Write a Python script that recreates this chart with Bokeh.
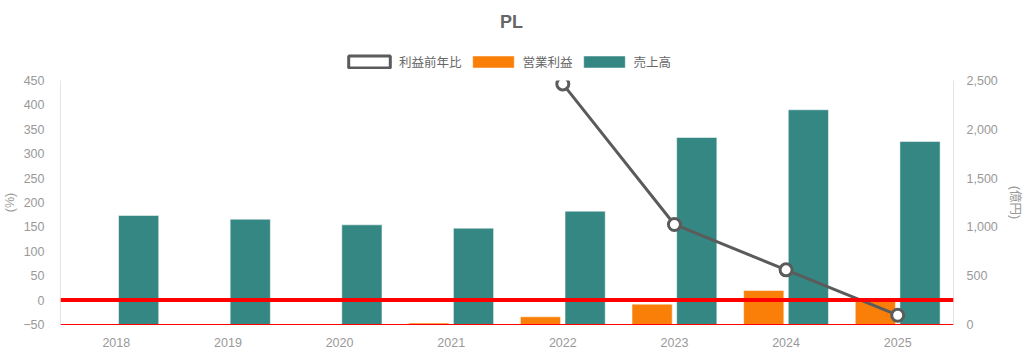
from bokeh.plotting import figure
from bokeh.layouts import column
from bokeh.models import (FactorRange, Range1d, LinearAxis, Span, Legend, LegendItem,
                          ColumnDataSource, SingleIntervalTicker, NumeralTickFormatter)
from bokeh.core.properties import value
from bokeh.transform import dodge
from bokeh.embed import file_html
from bokeh.resources import INLINE

title_text = "PL"
years = ["2018", "2019", "2020", "2021", "2022", "2023", "2024", "2025"]
sales = [1117, 1079, 1021, 987, 1161, 1916, 2200, 1875]          # 売上高 (億円)
op_profit = [None, None, None, 15, 79, 208, 348, 253]           # 営業利益 (億円)
growth = [None, None, None, None, 443, 155, 62, -31]            # 利益前年比 (%)
series_names = ["利益前年比", "営業利益", "売上高"]

def nanify(v):
    return [float("nan") if x is None else x for x in v]

src = ColumnDataSource(dict(year=years, sales=sales, op=nanify(op_profit), growth=nanify(growth)))

FONT = "'Liberation Sans', 'Noto Sans CJK JP', sans-serif"
GRAY = "#999999"
TEAL = "#358784"
ORANGE = "#fa7f08"
LINEC = "#5b5b5b"

W = 1024
HH = 74   # header height
FL, FR = 60, 953  # frame left / right in page pixels (frames are aligned in the column)

# ---------- header (title + legend) ----------
h = figure(width=W, height=HH, x_range=Range1d(FL, FR), y_range=Range1d(0, HH),
           output_backend="svg", toolbar_location=None,
           min_border_left=FL, min_border_right=W - FR, min_border_top=0, min_border_bottom=0)
h.axis.visible = False
h.grid.visible = False
h.outline_line_color = None
h.text(x=[511], y=[HH - 21.5], text=[title_text], text_align="center", text_baseline="middle",
       text_font=value("Liberation Sans"), text_font_size="18px", text_font_style="bold",
       text_color="#666666")
# legend-only proxies, placed outside the visible header range
off = dict(left=[0], right=[1], top=[1], bottom=[0])
d1 = h.quad(**off, fill_color="white", line_color=LINEC, line_width=3)
d2 = h.quad(**off, fill_color=ORANGE, line_color="white", line_alpha=0.5)
d3 = h.quad(**off, fill_color=TEAL, line_color="white", line_alpha=0.5)
legend = Legend(items=[LegendItem(label=series_names[0], renderers=[d1]),
                       LegendItem(label=series_names[1], renderers=[d2]),
                       LegendItem(label=series_names[2], renderers=[d3])],
                orientation="horizontal", location=(343 - FL, 3),
                glyph_width=52, glyph_height=15, label_standoff=4, spacing=5,
                label_text_font=FONT, label_text_font_size="12.5px", label_text_color="#666666",
                label_height=15, border_line_color=None, background_fill_alpha=0, padding=0, margin=0)
h.add_layout(legend)

# ---------- main chart ----------
p = figure(width=W, height=355 - HH, x_range=FactorRange(*years), y_range=Range1d(-50, 450),
           output_backend="svg", toolbar_location=None,
           min_border_left=FL, min_border_right=W - FR, min_border_bottom=31, min_border_top=80 - HH)
p.extra_y_ranges = {"yen": Range1d(0, 2500)}
p.outline_line_color = None
p.xgrid.grid_line_color = None
p.ygrid.grid_line_color = None

p.add_layout(Span(location=0, dimension="width", line_color="#ff0000", line_width=4))

p.vbar(x=dodge("year", 0.2, range=p.x_range), top="sales", width=0.36, source=src,
       y_range_name="yen", fill_color=TEAL, line_color="#ffffff", line_alpha=0.5, line_width=1)
p.vbar(x=dodge("year", -0.2, range=p.x_range), top="op", width=0.36, source=src,
       y_range_name="yen", fill_color=ORANGE, line_color="#ffffff", line_alpha=0.5, line_width=1)

p.line(x="year", y="growth", source=src, line_color=LINEC, line_width=3)
p.scatter(x="year", y="growth", source=src, size=12,
          fill_color="white", line_color=LINEC, line_width=3)

yl = p.yaxis[0]
yl.ticker = SingleIntervalTicker(interval=50)
yl.axis_label = "(%)"

yr = LinearAxis(y_range_name="yen", ticker=SingleIntervalTicker(interval=500),
                formatter=NumeralTickFormatter(format="0,0"), axis_label="(億円)")
p.add_layout(yr, "right")

for ax in [yl, yr]:
    ax.axis_line_color = "#e5e5e5"
    ax.major_tick_line_color = None
    ax.minor_tick_line_color = None
    ax.major_label_text_color = GRAY
    ax.major_label_text_font = FONT
    ax.major_label_text_font_size = "12.5px"
    ax.axis_label_text_color = GRAY
    ax.axis_label_text_font = FONT
    ax.axis_label_text_font_size = "12.5px"
    ax.axis_label_text_font_style = "normal"
yl.major_label_standoff = 10
yl.axis_label_standoff = 3
yr.major_label_standoff = 7
yr.axis_label_standoff = 7

xa = p.xaxis[0]
xa.axis_line_color = "#ff0000"
xa.axis_line_width = 1
xa.major_tick_line_color = None
xa.minor_tick_line_color = None
xa.major_label_text_color = GRAY
xa.major_label_text_font = FONT
xa.major_label_text_font_size = "12.5px"
xa.major_label_standoff = 7

layout = column(h, p, spacing=0)
open("out.html", "w").write(file_html(layout, INLINE))
